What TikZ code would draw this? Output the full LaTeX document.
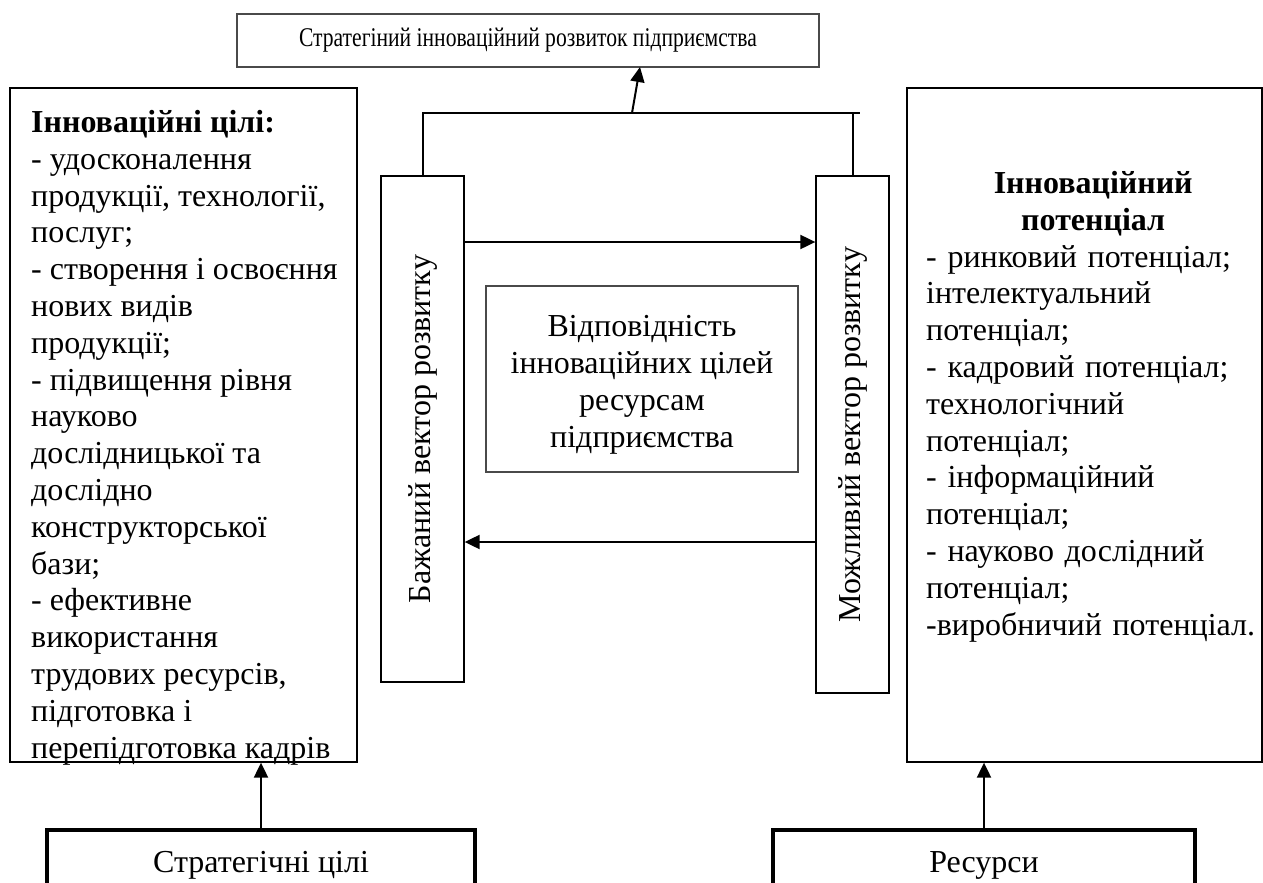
\documentclass[tikz,border=0pt]{standalone}
\usepackage{fontspec}
\setmainfont{Liberation Serif}
\usetikzlibrary{arrows.meta,positioning,calc}
\definecolor{FrameGrey}{HTML}{4A4A4A}
\definecolor{InkBlack}{HTML}{000000}

\begin{document}
\begin{tikzpicture}[x=1pt,y=-1pt,
    every node/.style={font=\fontsize{32}{36.8}\selectfont, inner sep=0pt},
    plainbox/.style={draw=InkBlack, line width=1.3pt},
    greybox/.style={draw=FrameGrey, line width=1.3pt},
    heavybox/.style={draw=InkBlack, line width=4pt},
    link/.style={draw=InkBlack, line width=2pt},
    flow/.style={link, -{Triangle[length=15pt,width=14pt]}}]
    \clip (0,0) rectangle (1263,883);
    \useasboundingbox (0,0) rectangle (1263,883);

    % upper goal
    \node[greybox, minimum width=582, minimum height=53] (goal) at (528,40.5)
        {\fontsize{27}{31}\selectfont\scalebox{0.8}[1]{Стратегіний інноваційний розвиток підприємства}};

    % side panels
    \node[plainbox, minimum width=347, minimum height=674] (aims) at (183.5,425) {};
    \node[anchor=north west, align=left] (aimstext) at (31,110) {%
        \textbf{Інноваційні цілі:}\\
        - удосконалення\\
        продукції, технології,\\
        послуг;\\
        - створення і освоєння\\
        нових видів\\
        продукції;\\
        - підвищення рівня\\
        науково\\
        дослідницької та\\
        дослідно\\
        конструкторської\\
        бази;\\
        - ефективне\\
        використання\\
        трудових ресурсів,\\
        підготовка і\\
        перепідготовка кадрів};

    \node[plainbox, minimum width=355, minimum height=674] (potential) at (1084.5,425) {};
    \node[anchor=north west, text width=334, align=left] (potentialtext) at (926,171) {%
        \hfill\textbf{Інноваційний}\hfill\null\\
        \hfill\textbf{потенціал}\hfill\null\\
        \makebox[331pt][s]{- ринковий потенціал;}\\
        інтелектуальний\\
        потенціал;\\
        \makebox[331pt][s]{- кадровий потенціал;}\\
        технологічний\\
        потенціал;\\
        - інформаційний\\
        потенціал;\\
        - науково дослідний\\
        потенціал;\\
        -виробничий потенціал.};

    % development vectors
    \node[plainbox, minimum width=83, minimum height=506] (desired) at (422.5,429)
        {\rotatebox{90}{Бажаний вектор розвитку}};
    \node[plainbox, minimum width=73, minimum height=517] (possible) at (852.5,434.5)
        {\rotatebox{90}{Можливий вектор розвитку}};
    \node[greybox, minimum width=312, minimum height=186, align=center] (match) at (642,379)
        {\rule{0pt}{33pt}Відповідність\\ інноваційних цілей\\ ресурсам\\ підприємства};

    % base boxes
    \node[heavybox, minimum width=428, minimum height=70] (stratgoals) at (261,865) {Стратегічні цілі};
    \node[heavybox, minimum width=422, minimum height=70] (resources) at (984,865) {Ресурси};

    % connectors
    \coordinate (barend) at (860,113);
    \coordinate (rise) at (632,113);
    \coordinate (tip) at (640,67);
    \draw[link] (desired.north) |- (barend);
    \draw[link] (possible.north) -- (possible.north |- barend);
    \draw[flow] (rise) -- (tip);

    \coordinate (fwd) at (464,242);
    \coordinate (back) at (816,542);
    \draw[flow] (fwd) -- (fwd -| possible.west);
    \draw[flow] (back) -- (back -| desired.east);

    \draw[flow] (stratgoals.north) -- (stratgoals.north |- aims.south);
    \draw[flow] (resources.north) -- (resources.north |- potential.south);
\end{tikzpicture}
\end{document}
